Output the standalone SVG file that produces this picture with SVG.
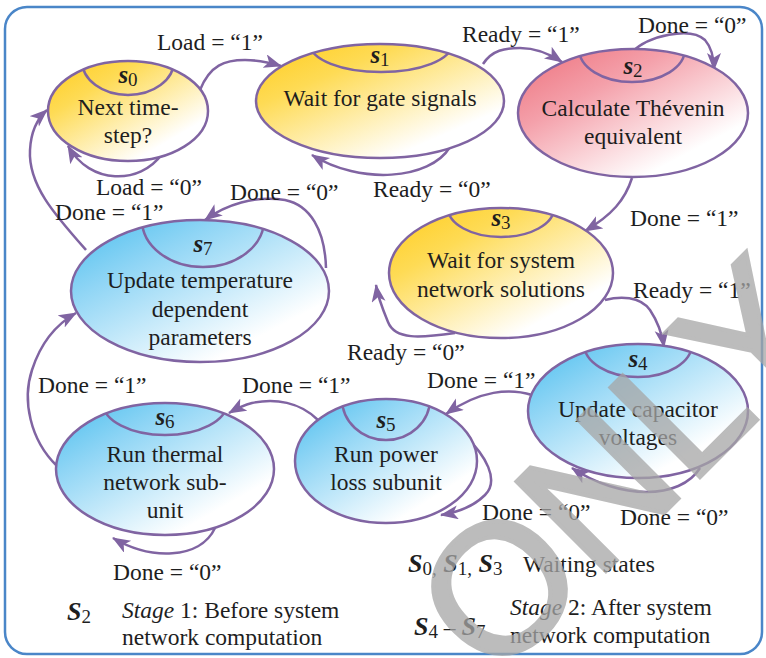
<svg xmlns="http://www.w3.org/2000/svg" width="766" height="658" viewBox="0 0 766 658">
  <style>
    .node { stroke: #8064a2; stroke-width: 2.5; }
    .cap { fill: none; stroke: #8064a2; stroke-width: 2.5; }
    .edge { fill: none; stroke: #8064a2; stroke-width: 2.5; marker-end: url(#arrow); }
    text { font-family: "Liberation Serif", "Times New Roman", serif; fill: #1e1e1e; }
    .t { font-size: 23.5px; text-anchor: middle; }
    .lbl { font-size: 23.5px; }
    .sn { font-size: 25px; text-anchor: middle; }
    .sv { font-weight: bold; font-style: italic; }
    .sub { font-size: 19px; }
    .leg { font-size: 23.5px; }
    .cap-s { font-size: 26px; }
    .wm { font-family: "Liberation Sans", Arial, sans-serif; font-size: 184px; fill: #a6a6a6; stroke: #a6a6a6; stroke-width: 4; opacity: 0.75; }
  </style>
  <defs>
    <marker id="arrow" markerUnits="userSpaceOnUse" markerWidth="20" markerHeight="16" refX="17" refY="7" orient="auto">
      <path d="M0,0 L18,7 L0,14 L4.5,7 Z" fill="#8064a2"/>
    </marker>
    <linearGradient id="gy" x1="0.05" y1="0.1" x2="0.85" y2="0.95">
      <stop offset="0" stop-color="#ffd02b"/>
      <stop offset="0.25" stop-color="#fedb55"/>
      <stop offset="0.85" stop-color="#ffffff"/>
    </linearGradient>
    <linearGradient id="gb" x1="0.05" y1="0.1" x2="0.85" y2="0.95">
      <stop offset="0" stop-color="#5cc4f0"/>
      <stop offset="0.25" stop-color="#8fd5f5"/>
      <stop offset="0.85" stop-color="#ffffff"/>
    </linearGradient>
    <linearGradient id="gr" x1="0.05" y1="0.1" x2="0.85" y2="0.95">
      <stop offset="0" stop-color="#ef7b86"/>
      <stop offset="0.3" stop-color="#f4a0aa"/>
      <stop offset="0.85" stop-color="#ffffff"/>
    </linearGradient>
    <clipPath id="c0"><ellipse cx="128" cy="111" rx="80" ry="50"/></clipPath>
    <clipPath id="c1"><ellipse cx="380" cy="101" rx="124" ry="57"/></clipPath>
    <clipPath id="c2"><ellipse cx="633" cy="113" rx="115" ry="64"/></clipPath>
    <clipPath id="c3"><ellipse cx="501" cy="273" rx="112" ry="65"/></clipPath>
    <clipPath id="c4"><ellipse cx="638" cy="411" rx="110" ry="67"/></clipPath>
    <clipPath id="c5"><ellipse cx="386" cy="461" rx="91" ry="62"/></clipPath>
    <clipPath id="c6"><ellipse cx="165" cy="469" rx="109" ry="66"/></clipPath>
    <clipPath id="c7"><ellipse cx="200" cy="291" rx="129" ry="71"/></clipPath>
  </defs>

  <rect x="0" y="0" width="766" height="658" fill="#ffffff"/>
  <rect x="5" y="7" width="757" height="647" rx="22" fill="#ffffff" stroke="#4a86c8" stroke-width="2.5"/>

  <!-- transitions -->
  <g id="connectors">
    <path class="edge" d="M200 90 C210 65 225 60 245 60 C258 60 268 62 281 66"/>
    <path class="edge" d="M162 154 C140 185 90 185 68 146"/>
    <path class="edge" d="M86 250 C55 215 28 185 30 150 C31 130 38 118 47 110"/>
    <path class="edge" d="M483 64 C492 50 505 48 520 48 C535 48 550 54 562 62"/>
    <path class="edge" d="M450 147 C430 180 360 185 312 155"/>
    <path class="edge" d="M632 52 C648 36 690 26 705 40 C712 48 714 58 714 70"/>
    <path class="edge" d="M632 178 C625 200 612 215 585 231"/>
    <path class="edge" d="M455 333 C420 338 395 340 388 322 C383 310 378 298 376 285"/>
    <path class="edge" d="M605 300 C620 296 640 296 650 310 C658 322 662 333 664 347"/>
    <path class="edge" d="M700 468 C680 500 620 500 572 468"/>
    <path class="edge" d="M532 395 C510 388 480 390 446 414"/>
    <path class="edge" d="M466 437 C485 455 500 480 485 495 C475 505 460 512 441 515"/>
    <path class="edge" d="M318 420 C300 402 275 398 252 403 C244 405 236 409 229 413"/>
    <path class="edge" d="M215 528 C200 560 150 560 113 538"/>
    <path class="edge" d="M57 466 C30 440 22 400 32 370 C40 345 55 325 76 313"/>
    <path class="edge" d="M326 268 C325 230 310 205 285 200 C255 195 225 205 205 220"/>
  </g>

  <!-- transition conditions -->
  <g id="conditions" class="lbl">
    <text x="157" y="50">Load = “1”</text>
    <text x="96" y="195">Load = “0”</text>
    <text x="55" y="220">Done = “1”</text>
    <text x="462" y="42">Ready = “1”</text>
    <text x="373" y="197">Ready = “0”</text>
    <text x="638" y="33">Done = “0”</text>
    <text x="630" y="226">Done = “1”</text>
    <text x="230" y="200">Done = “0”</text>
    <text x="347" y="360">Ready = “0”</text>
    <text x="633" y="298">Ready = “1”</text>
    <text x="427" y="388">Done = “1”</text>
    <text x="242" y="393">Done = “1”</text>
    <text x="38" y="393">Done = “1”</text>
    <text x="482" y="520">Done = “0”</text>
    <text x="620" y="525">Done = “0”</text>
    <text x="113" y="580">Done = “0”</text>
  </g>

  <g id="s0">
    <ellipse class="node" cx="128" cy="111" rx="80" ry="50" fill="url(#gy)"/>
    <ellipse class="cap" cx="128" cy="61" rx="46" ry="34" clip-path="url(#c0)"/>
    <text class="sn" x="128" y="83"><tspan class="sv">s</tspan><tspan class="sub" dy="3">0</tspan></text>
    <text class="t" x="128" y="115">Next time-</text>
    <text class="t" x="128" y="143">step?</text>
  </g>

  <g id="s1">
    <ellipse class="node" cx="380" cy="101" rx="124" ry="57" fill="url(#gy)"/>
    <ellipse class="cap" cx="381" cy="44" rx="71" ry="28" clip-path="url(#c1)"/>
    <text class="sn" x="380" y="63"><tspan class="sv">s</tspan><tspan class="sub" dy="3">1</tspan></text>
    <text class="t" x="380" y="106">Wait for gate signals</text>
  </g>

  <g id="s2">
    <ellipse class="node" cx="633" cy="113" rx="115" ry="64" fill="url(#gr)"/>
    <ellipse class="cap" cx="632" cy="49" rx="53" ry="33" clip-path="url(#c2)"/>
    <text class="sn" x="633" y="74"><tspan class="sv">s</tspan><tspan class="sub" dy="3">2</tspan></text>
    <text class="t" x="633" y="116">Calculate Thévenin</text>
    <text class="t" x="633" y="144">equivalent</text>
  </g>

  <g id="s3">
    <ellipse class="node" cx="501" cy="273" rx="112" ry="65" fill="url(#gy)"/>
    <ellipse class="cap" cx="501" cy="208" rx="53" ry="29" clip-path="url(#c3)"/>
    <text class="sn" x="501" y="226"><tspan class="sv">s</tspan><tspan class="sub" dy="3">3</tspan></text>
    <text class="t" x="501" y="268">Wait for system</text>
    <text class="t" x="501" y="297">network solutions</text>
  </g>

  <g id="s4">
    <ellipse class="node" cx="638" cy="411" rx="110" ry="67" fill="url(#gb)"/>
    <ellipse class="cap" cx="638" cy="344" rx="54" ry="33" clip-path="url(#c4)"/>
    <text class="sn" x="638" y="367"><tspan class="sv">s</tspan><tspan class="sub" dy="3">4</tspan></text>
    <text class="t" x="638" y="417">Update capacitor</text>
    <text class="t" x="638" y="445">voltages</text>
  </g>

  <g id="s5">
    <ellipse class="node" cx="386" cy="461" rx="91" ry="62" fill="url(#gb)"/>
    <ellipse class="cap" cx="386" cy="399" rx="44" ry="41" clip-path="url(#c5)"/>
    <text class="sn" x="386" y="428"><tspan class="sv">s</tspan><tspan class="sub" dy="3">5</tspan></text>
    <text class="t" x="386" y="462">Run power</text>
    <text class="t" x="386" y="490">loss subunit</text>
  </g>

  <g id="s6">
    <ellipse class="node" cx="165" cy="469" rx="109" ry="66" fill="url(#gb)"/>
    <ellipse class="cap" cx="165" cy="403" rx="62" ry="32" clip-path="url(#c6)"/>
    <text class="sn" x="165" y="425"><tspan class="sv">s</tspan><tspan class="sub" dy="3">6</tspan></text>
    <text class="t" x="165" y="462">Run thermal</text>
    <text class="t" x="165" y="490">network sub-</text>
    <text class="t" x="165" y="518">unit</text>
  </g>

  <g id="s7">
    <ellipse class="node" cx="200" cy="291" rx="129" ry="71" fill="url(#gb)"/>
    <ellipse class="cap" cx="203" cy="220" rx="61" ry="47" clip-path="url(#c7)"/>
    <text class="sn" x="203" y="252"><tspan class="sv">s</tspan><tspan class="sub" dy="3">7</tspan></text>
    <text class="t" x="200" y="288">Update temperature</text>
    <text class="t" x="200" y="317">dependent</text>
    <text class="t" x="200" y="345">parameters</text>
  </g>

  <!-- key -->
  <g id="legend">
    <text class="leg" x="408" y="572"><tspan class="sv cap-s">S</tspan><tspan class="sub" dy="3">0,</tspan><tspan class="sv cap-s" dy="-3"> S</tspan><tspan class="sub" dy="3">1,</tspan><tspan class="sv cap-s" dy="-3"> S</tspan><tspan class="sub" dy="3">3</tspan></text>
    <text class="leg" x="523" y="572">Waiting states</text>
    <text class="leg" x="67" y="620"><tspan class="sv cap-s">S</tspan><tspan class="sub" dy="3">2</tspan></text>
    <text class="leg" x="122" y="618"><tspan font-style="italic">Stage</tspan> 1: Before system</text>
    <text class="leg" x="122" y="645">network computation</text>
    <text class="leg" x="414" y="635"><tspan class="sv cap-s">S</tspan><tspan class="sub" dy="3">4</tspan><tspan dy="-3"> – </tspan><tspan class="sv cap-s">S</tspan><tspan class="sub" dy="3">7</tspan></text>
    <text class="leg" x="510" y="615"><tspan font-style="italic">Stage</tspan> 2: After system</text>
    <text class="leg" x="510" y="643">network computation</text>
  </g>

  <text class="wm" transform="translate(494 683) rotate(-45)">ONLY</text>
</svg>
